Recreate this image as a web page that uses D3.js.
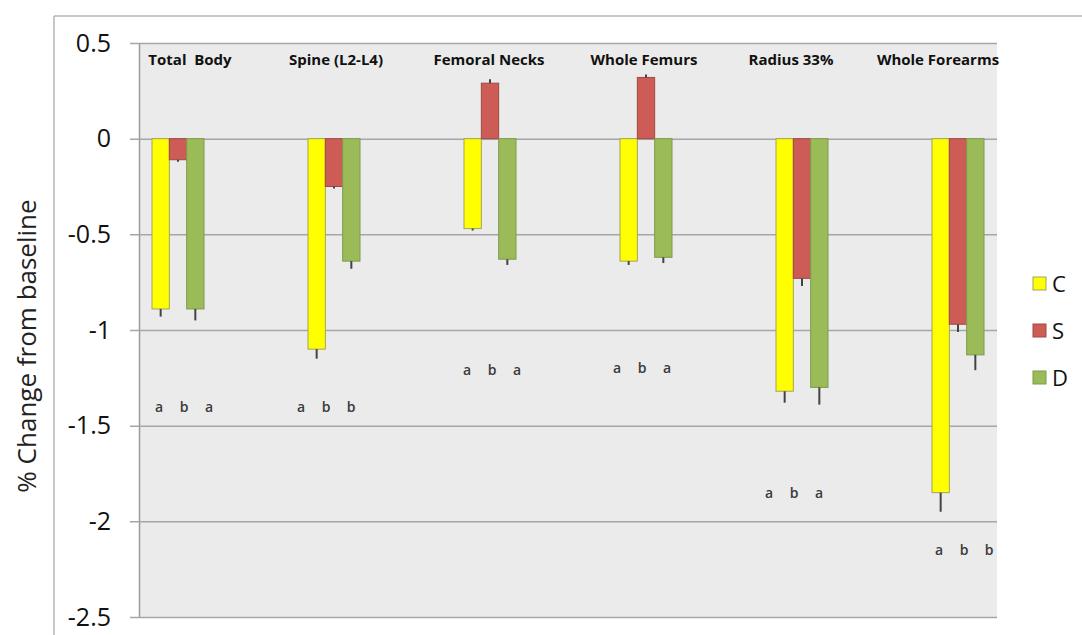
<!DOCTYPE html>
<html>
<head>
<meta charset="utf-8">
<script src="https://cdn.jsdelivr.net/npm/d3@7"></script>
<style>
  body { margin: 0; background: #fff; }
  svg { display: block; font-family: "Open Sans", "Liberation Sans", sans-serif; }
</style>
</head>
<body>
<div id="chart"></div>
<script>
// site names across the top
var sites = ["Total  Body", "Spine (L2-L4)", "Femoral Necks", "Whole Femurs", "Radius 33%", "Whole Forearms"];
var groups = ["C", "S", "D"];

// mean % change per group
var valC = [-0.89, -1.10, -0.47, -0.64, -1.32, -1.85];
var valS = [-0.11, -0.25, 0.29, 0.32, -0.73, -0.97];
var valD = [-0.89, -0.64, -0.63, -0.62, -1.30, -1.13];

// end of the error bar
var errC = [-0.93, -1.15, -0.48, -0.66, -1.38, -1.95];
var errS = [-0.12, -0.26, 0.31, 0.335, -0.77, -1.01];
var errD = [-0.95, -0.68, -0.66, -0.65, -1.39, -1.21];

// significance letters and the height they sit at
var letters = [["a","b","a"], ["a","b","b"], ["a","b","a"], ["a","b","a"], ["a","b","a"], ["a","b","b"]];
var letterY = [-1.40, -1.40, -1.21, -1.20, -1.85, -2.15];

var yTicks = [0.5, 0, -0.5, -1, -1.5, -2, -2.5];

var colors = {C: "#ffff00", S: "#cd5c56", D: "#9bbb59"};
var strokes = {C: "#a3a35a", S: "#9e4a45", D: "#7f9a4a"};

// the titles were nudged by hand in the original
var titleShift = [12, 2, -1, -2, -11, -20];
var letterShift = [6, -8, 2, -4, -8, 6];

var W = 1082, H = 635;
var plot = {left: 139, right: 997, top: 43, bottom: 617};

var svg = d3.select("#chart").append("svg")
  .attr("width", W).attr("height", H);

// outer frame (only top and left visible)
svg.append("line").attr("x1", 54).attr("x2", W).attr("y1", 16).attr("y2", 16)
  .attr("stroke", "#b4b4b4").attr("stroke-width", 1.5);
svg.append("line").attr("x1", 54).attr("x2", 54).attr("y1", 16).attr("y2", H)
  .attr("stroke", "#b4b4b4").attr("stroke-width", 1.5);

var y = d3.scaleLinear().domain([0.5, -2.5]).range([plot.top, plot.bottom]);
var x = d3.scalePoint().domain(sites).range([plot.left, plot.right]).padding(0.25);
var xs = d3.scaleBand().domain(groups).range([-26, 26]);

// plot background
svg.append("rect")
  .attr("x", plot.left).attr("y", plot.top)
  .attr("width", plot.right - plot.left).attr("height", plot.bottom - plot.top)
  .attr("fill", "#ebebeb");

// gridlines + labels
var yAxis = svg.append("g")
  .attr("transform", "translate(" + plot.left + ",0)")
  .call(d3.axisLeft(y).tickValues(yTicks).tickSizeInner(-(plot.right - plot.left)).tickSizeOuter(0).tickPadding(28)
    .tickFormat(function(d) { return d3.format("")(d); }));
yAxis.select(".domain").attr("stroke", "#9a9a9a").attr("stroke-width", 1.5);
yAxis.selectAll(".tick line").attr("stroke", "#a6a6a6").attr("stroke-width", 1.5).attr("x1", -9);
yAxis.selectAll(".tick text")
  .attr("font-size", 25).attr("fill", "#111")
  .attr("font-family", "Open Sans, sans-serif")
  .text(function(d) { return String(d); });

svg.append("text")
  .attr("transform", "translate(36," + 346 + ") rotate(-90)")
  .attr("text-anchor", "middle")
  .attr("font-size", 26).attr("fill", "#222")
  .text("% Change from baseline");

// rows of data for the bars
var rows = [];
sites.forEach(function(s, i) {
  rows.push({site: s, g: "C", v: valC[i], e: errC[i]});
  rows.push({site: s, g: "S", v: valS[i], e: errS[i]});
  rows.push({site: s, g: "D", v: valD[i], e: errD[i]});
});

var bars = svg.append("g");
bars.selectAll("rect")
  .data(rows)
  .join("rect")
  .attr("x", function(d) { return x(d.site) + xs(d.g); })
  .attr("y", function(d) { return y(Math.max(0, d.v)); })
  .attr("width", xs.bandwidth())
  .attr("height", function(d) { return Math.abs(y(d.v) - y(0)); })
  .attr("fill", function(d) { return colors[d.g]; })
  .attr("stroke", function(d) { return strokes[d.g]; })
  .attr("stroke-width", 1);

// error bars, single whisker
bars.selectAll("line.err")
  .data(rows)
  .join("line")
  .attr("class", "err")
  .attr("x1", function(d) { return x(d.site) + xs(d.g) + xs.bandwidth() / 2; })
  .attr("x2", function(d) { return x(d.site) + xs(d.g) + xs.bandwidth() / 2; })
  .attr("y1", function(d) { return y(d.v); })
  .attr("y2", function(d) { return y(d.e); })
  .attr("stroke", "#444").attr("stroke-width", 2);

// site titles
svg.append("g").selectAll("text")
  .data(sites)
  .join("text")
  .attr("x", function(d, i) { return x(d) + titleShift[i]; })
  .attr("y", 65)
  .attr("text-anchor", "middle")
  .attr("font-size", 15).attr("font-weight", "bold").attr("fill", "#111")
  .attr("xml:space", "preserve")
  .style("white-space", "pre")
  .text(function(d) { return d; });

// significance letters
var letterRows = [];
sites.forEach(function(s, i) {
  letters[i].forEach(function(l, j) {
    letterRows.push({site: s, i: i, j: j, l: l, v: letterY[i]});
  });
});
svg.append("g").selectAll("text")
  .data(letterRows)
  .join("text")
  .attr("x", function(d) { return x(d.site) + (d.j - 1) * 25 + letterShift[d.i]; })
  .attr("y", function(d) { return y(d.v) + 5; })
  .attr("text-anchor", "middle")
  .attr("font-size", 14).attr("font-weight", 600).attr("fill", "#3a3a3a")
  .text(function(d) { return d.l; });

// legend
var legend = svg.append("g").attr("transform", "translate(1033,277)");
var li = legend.selectAll("g")
  .data(groups)
  .join("g")
  .attr("transform", function(d, i) { return "translate(0," + i * 47 + ")"; });
li.append("rect")
  .attr("width", 13).attr("height", 13)
  .attr("fill", function(d) { return colors[d]; })
  .attr("stroke", function(d) { return strokes[d]; });
li.append("text")
  .attr("x", 19).attr("y", 15)
  .attr("font-size", 22).attr("fill", "#111")
  .text(function(d) { return d; });
</script>
</body>
</html>
